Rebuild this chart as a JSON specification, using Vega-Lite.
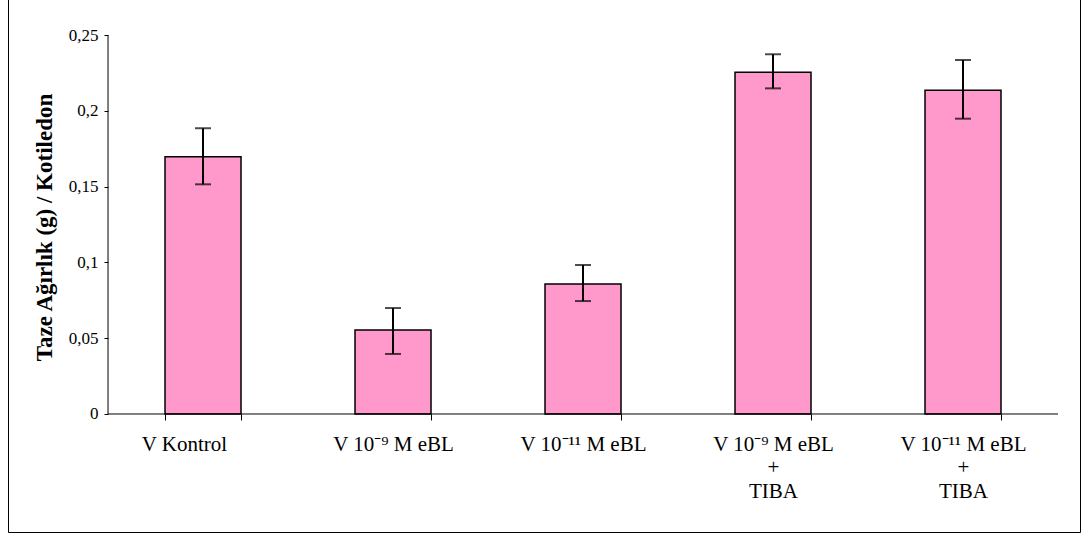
{
  "$schema": "https://vega.github.io/schema/vega-lite/v6.json",
  "width": 1072,
  "height": 534,
  "autosize": {"type": "none"},
  "padding": {"left": 8, "top": -2, "right": 6, "bottom": 3},
  "background": "white",
  "config": {
    "view": {"stroke": "black", "strokeWidth": 1},
    "font": "Liberation Serif",
    "axis": {"grid": false, "labelColor": "black", "tickColor": "black", "titleColor": "black", "labelFont": "Liberation Serif", "titleFont": "Liberation Serif"}
  },
  "data": {
    "values": [
      {"group": "V Kontrol", "mean": 0.1697, "lo": 0.1515, "hi": 0.1885},
      {"group": "V 10⁻⁹ M eBL", "mean": 0.0554, "lo": 0.0396, "hi": 0.0699},
      {"group": "V 10⁻¹¹ M eBL", "mean": 0.0858, "lo": 0.0745, "hi": 0.0983},
      {"group": "V 10⁻⁹ M eBL|+|TIBA", "mean": 0.2254, "lo": 0.2148, "hi": 0.2373},
      {"group": "V 10⁻¹¹ M eBL|+|TIBA", "mean": 0.2135, "lo": 0.1948, "hi": 0.2335}
    ]
  },
  "encoding": {
    "x": {
      "field": "group",
      "type": "nominal",
      "sort": null,
      "scale": {"paddingInner": 0.6, "paddingOuter": 0.6211, "align": 0.6653},
      "axis": {
        "orient": "bottom",
        "offset": -118,
        "domain": false,
        "tickBand": "extent",
        "tickSize": 6,
        "labelAngle": 0,
        "labelFontSize": 21,
        "labelPadding": 13,
        "labelLineHeight": 23.5,
        "labelOffset": {"condition": {"test": "datum.value == 'V Kontrol'", "value": -19}, "value": 0},
        "labelExpr": "split(datum.label, '|')",
        "title": null
      }
    }
  },
  "layer": [
    {
      "mark": {"type": "bar", "fill": "#FF99CC", "stroke": "black", "strokeWidth": 1.5},
      "encoding": {
        "y": {
          "field": "mean",
          "type": "quantitative",
          "scale": {"domain": [-0.07784, 0.27441], "nice": false, "zero": false},
          "axis": {
            "orient": "left",
            "offset": -100,
            "domain": false,
            "values": [0, 0.05, 0.1, 0.15, 0.2, 0.25],
            "labelExpr": "replace(format(datum.value, '.2~f'), '.', ',')",
            "tickSize": 4,
            "labelPadding": 6,
            "labelFontSize": 17,
            "title": "Taze Ağırlık (g) / Kotiledon",
            "titleFontSize": 23,
            "titleFontWeight": "bold",
            "titlePadding": 12,
            "titleY": 229
          }
        }
      }
    },
    {
      "mark": {"type": "rule", "color": "black", "strokeWidth": 2},
      "encoding": {
        "y": {"field": "lo", "type": "quantitative"},
        "y2": {"field": "hi"}
      }
    },
    {
      "mark": {"type": "tick", "color": "black", "size": 16, "thickness": 2, "orient": "horizontal"},
      "encoding": {"y": {"field": "lo", "type": "quantitative"}}
    },
    {
      "mark": {"type": "tick", "color": "black", "size": 16, "thickness": 2, "orient": "horizontal"},
      "encoding": {"y": {"field": "hi", "type": "quantitative"}}
    },
    {
      "data": {"values": [{"from": "V Kontrol", "to": "V 10⁻¹¹ M eBL|+|TIBA", "base": 0}]},
      "mark": {"type": "rule", "color": "black", "strokeWidth": 1},
      "encoding": {
        "x": {"field": "from", "type": "nominal", "bandPosition": -0.75},
        "x2": {"field": "to", "bandPosition": 1.75},
        "y": {"field": "base", "type": "quantitative"}
      }
    },
    {
      "data": {"values": [{"from": "V Kontrol", "base": 0, "top": 0.25}]},
      "mark": {"type": "rule", "color": "black", "strokeWidth": 1},
      "encoding": {
        "x": {"field": "from", "type": "nominal", "bandPosition": -0.75},
        "y": {"field": "base", "type": "quantitative"},
        "y2": {"field": "top"}
      }
    }
  ]
}
